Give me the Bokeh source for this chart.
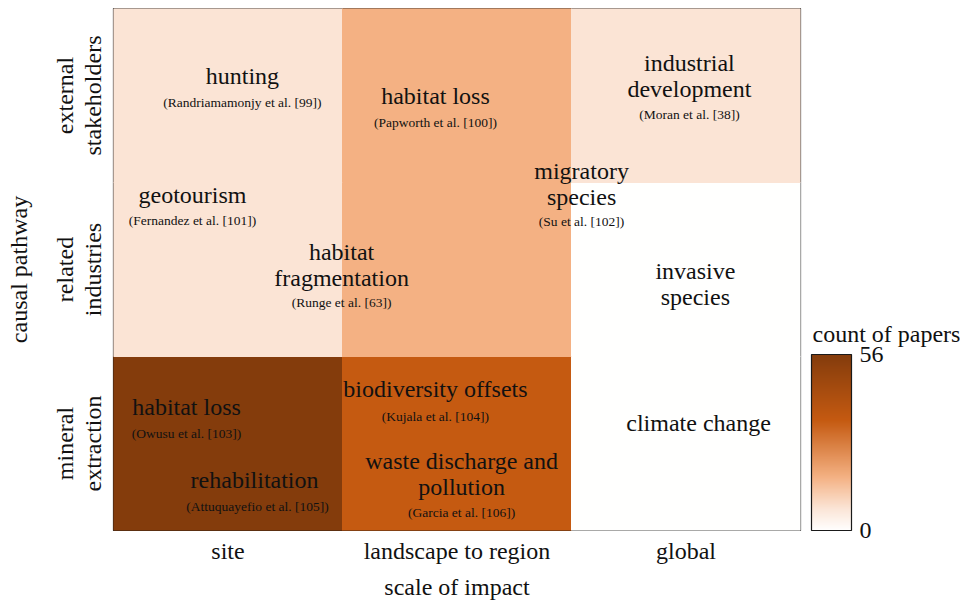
import math
from bokeh.plotting import figure
from bokeh.models import (ColumnDataSource, LinearColorMapper, ColorBar,
                          FixedTicker, Range1d, LinearAxis)
from bokeh.transform import transform
from bokeh.core.properties import value
from bokeh.embed import file_html
from bokeh.resources import INLINE

# ---------------- data ----------------
scales = ["site", "landscape to region", "global"]
pathways = ["mineral extraction", "related industries", "external stakeholders"]
pathway_line1 = ["mineral", "related", "external"]
pathway_line2 = ["extraction", "industries", "stakeholders"]

# count of papers per cell, one list per causal pathway (site, landscape, global)
counts_mineral = [56, 35, 0]
counts_related = [7, 17, 0]
counts_external = [7, 17, 7]
count_low, count_high = 0, 56

# colour scale stops (count value -> colour)
stop_values = [0, 7, 17, 35, 56]
stop_colors = ["#FFFFFF", "#FBE5D6", "#F4B183", "#C55A11", "#843C0C"]

# text annotations in the cells
topic_labels = ["hunting", "habitat loss", "industrial\ndevelopment", "geotourism",
                "migratory\nspecies", "habitat\nfragmentation", "invasive\nspecies",
                "habitat loss", "rehabilitation", "biodiversity offsets",
                "waste discharge and\npollution", "climate change"]
topic_x = [0.563, 1.406, 2.515, 0.345, 2.044, 0.996, 2.541, 0.319, 0.616, 1.406, 1.520, 2.555]
topic_y = [2.611, 2.496, 2.610, 1.929, 1.992, 1.523, 1.414, 0.710, 0.292, 0.813, 0.326, 0.618]

citation_labels = ["(Randriamamonjy et al. [99])", "(Papworth et al. [100])",
                   "(Moran et al. [38])", "(Fernandez et al. [101])", "(Su et al. [102])",
                   "(Runge et al. [63])", "(Owusu et al. [103])",
                   "(Attuquayefio et al. [105])", "(Kujala et al. [104])",
                   "(Garcia et al. [106])"]
citation_x = [0.563, 1.406, 2.515, 0.345, 2.044, 0.996, 0.319, 0.629, 1.406, 1.520]
citation_y = [2.462, 2.342, 2.393, 1.781, 1.775, 1.311, 0.555, 0.137, 0.653, 0.103]

# ---------------- palette ----------------
def hex_to_rgb(h):
    h = h.lstrip("#")
    return tuple(int(h[i:i + 2], 16) for i in (0, 2, 4))

def build_palette(n=256):
    out = []
    for i in range(n):
        v = count_low + (i + 0.5) / n * (count_high - count_low)
        for k in range(len(stop_values) - 1):
            if stop_values[k] <= v <= stop_values[k + 1]:
                t = (v - stop_values[k]) / (stop_values[k + 1] - stop_values[k])
                a = hex_to_rgb(stop_colors[k]); b = hex_to_rgb(stop_colors[k + 1])
                c = tuple(round(a[j] + (b[j] - a[j]) * t) for j in range(3))
                out.append("#%02x%02x%02x" % c)
                break
    return out

palette = build_palette()
mapper = LinearColorMapper(palette=palette, low=count_low, high=count_high)

# ---------------- cells ----------------
all_counts = [counts_mineral, counts_related, counts_external]
cx, cy, cc = [], [], []
for r, row in enumerate(all_counts):
    for c, v in enumerate(row):
        cx.append(c + 0.5); cy.append(r + 0.5); cc.append(v)
cells = ColumnDataSource(dict(x=cx, y=cy, count=cc))

SERIF = "Liberation Serif"
BIG = "24px"
SMALL = "13.5px"
INK = "#111111"

p = figure(width=960, height=602, output_backend="svg", toolbar_location=None,
           x_range=Range1d(0, 3), y_range=Range1d(0, 3),
           min_border_left=113, min_border_right=160, min_border_top=8,
           min_border_bottom=70)
p.grid.visible = False
p.outline_line_color = "#1a1a1a"
p.outline_line_width = 1.2
p.background_fill_color = "white"

p.rect(x="x", y="y", width=1, height=1, source=cells,
       fill_color=transform("count", mapper), line_color=transform("count", mapper),
       line_width=1)

p.text(x=topic_x, y=topic_y, text=topic_labels, text_font=value(SERIF),
       text_font_size=BIG, text_align="center", text_baseline="middle",
       text_color=INK, text_line_height=1.0)
p.text(x=citation_x, y=citation_y, text=citation_labels, text_font=value(SERIF),
       text_font_size=SMALL, text_align="center", text_baseline="middle",
       text_color=INK)

ticks3 = FixedTicker(ticks=[0.5, 1.5, 2.5])

def style_axis(ax):
    ax.axis_line_color = None
    ax.major_tick_line_color = None
    ax.minor_tick_line_color = None
    ax.major_label_text_font = SERIF
    ax.major_label_text_font_size = BIG
    ax.major_label_text_color = INK
    ax.axis_label_text_font = SERIF
    ax.axis_label_text_font_size = BIG
    ax.axis_label_text_font_style = "normal"
    ax.axis_label_text_color = INK

style_axis(p.xaxis[0])
p.xaxis.ticker = ticks3
p.xaxis.major_label_overrides = {0.5 + i: s for i, s in enumerate(scales)}
p.xaxis.axis_label = "scale of impact"
p.xaxis.major_label_standoff = 1
p.xaxis.axis_label_standoff = 7

# inner y axis: second line of each pathway name
yin = p.yaxis[0]
style_axis(yin)
yin.ticker = ticks3
yin.major_label_overrides = {0.5 + i: s for i, s in enumerate(pathway_line2)}
yin.major_label_orientation = "vertical"
yin.major_label_standoff = 2

# outer y axis: first line of each pathway name + axis title
yout = LinearAxis(ticker=FixedTicker(ticks=[0.5, 1.5, 2.5]))
style_axis(yout)
yout.major_label_overrides = {0.5 + i: s for i, s in enumerate(pathway_line1)}
yout.major_label_orientation = "vertical"
yout.major_label_standoff = -7
yout.axis_label = "causal pathway"
yout.axis_label_standoff = 17
p.add_layout(yout, "left")

# vertical colour bar (legend of the fill scale)
cb = ColorBar(color_mapper=mapper, ticker=FixedTicker(ticks=[count_low, count_high]),
              width=40, height=176, location=(698, 0), padding=0, margin=0,
              major_label_text_font=SERIF, major_label_text_font_size=BIG,
              major_label_text_color=INK, label_standoff=8,
              major_tick_line_color=None, minor_tick_line_color=None,
              bar_line_color="#1a1a1a", bar_line_width=1.2,
              background_fill_alpha=0, border_line_color=None)
p.add_layout(cb, "center")

# colour-bar title, drawn horizontally above the bar
cb_head = ColorBar(color_mapper=mapper, orientation="horizontal",
                   ticker=FixedTicker(ticks=[]), width=146, height=1,
                   location=(699, 183), padding=0, margin=0, scale_alpha=0,
                   bar_line_color=None, label_standoff=0,
                   major_label_text_alpha=0, major_tick_line_color=None,
                   minor_tick_line_color=None,
                   title="count of papers", title_text_font=SERIF,
                   title_text_font_size=BIG, title_text_font_style="normal",
                   title_text_color=INK, title_standoff=0,
                   background_fill_alpha=0, border_line_color=None)
p.add_layout(cb_head, "center")

open("out.html", "w").write(file_html(p, INLINE))
